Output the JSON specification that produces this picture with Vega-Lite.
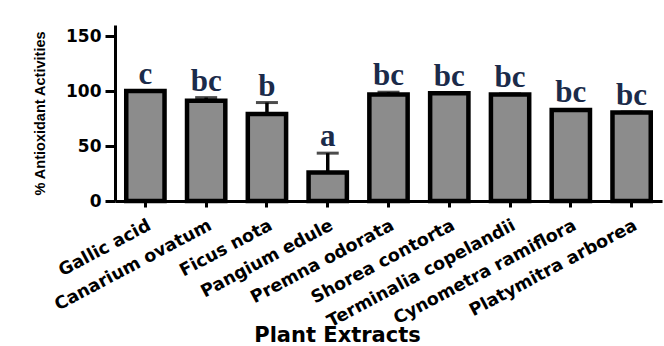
{
  "$schema": "https://vega.github.io/schema/vega-lite/v6.json",
  "width": 547,
  "height": 176,
  "autosize": "none",
  "padding": {"left": 115, "top": 25, "right": 2, "bottom": 145},
  "background": "white",
  "config": {"view": {"stroke": null}},
  "data": {
    "values": [
      {"extract": "Gallic acid", "mean": 100, "upper": 100.3, "letter": "c"},
      {"extract": "Canarium ovatum", "mean": 91.2, "upper": 94, "letter": "bc"},
      {"extract": "Ficus nota", "mean": 79, "upper": 89.5, "letter": "b"},
      {"extract": "Pangium edule", "mean": 26, "upper": 43.5, "letter": "a"},
      {"extract": "Premna odorata", "mean": 96.9, "upper": 98.9, "letter": "bc"},
      {"extract": "Shorea contorta", "mean": 98, "upper": 98.6, "letter": "bc"},
      {"extract": "Terminalia copelandii", "mean": 96.9, "upper": 97.4, "letter": "bc"},
      {"extract": "Cynometra ramiflora", "mean": 82.7, "upper": 83.2, "letter": "bc"},
      {"extract": "Platymitra arborea", "mean": 80.4, "upper": 80.9, "letter": "bc"}
    ]
  },
  "encoding": {
    "x": {
      "field": "extract",
      "type": "nominal",
      "sort": null,
      "scale": {"paddingInner": 0.37, "paddingOuter": 0.185},
      "axis": {
        "title": "Plant Extracts",
        "titleFont": "DejaVu Sans",
        "titleFontSize": 21,
        "titleFontWeight": "bold",
        "titleColor": "black",
        "titleX": 222,
        "titleY": 140,
        "titleBaseline": "alphabetic",
        "labelAngle": -28,
        "labelAlign": "right",
        "labelBaseline": "top",
        "labelFont": "DejaVu Sans",
        "labelFontSize": 17.5,
        "labelFontWeight": "bold",
        "labelColor": "black",
        "labelPadding": 9,
        "labelLimit": 400,
        "labelOverlap": false,
        "tickSize": 6,
        "tickWidth": 3,
        "tickColor": "black",
        "domainWidth": 3,
        "domainColor": "black"
      }
    }
  },
  "layer": [
    {
      "mark": {"type": "bar", "fill": "#8c8c8c", "stroke": "black", "strokeWidth": 4.5},
      "encoding": {
        "y": {
          "field": "mean",
          "type": "quantitative",
          "scale": {"domain": [0, 150]},
          "axis": {
            "values": [0, 50, 100, 150],
            "grid": false,
            "domainWidth": 3,
            "domainColor": "black",
            "tickWidth": 3,
            "tickColor": "black",
            "tickSize": 10,
            "labelFont": "DejaVu Sans",
            "labelFontWeight": "bold",
            "labelFontSize": 17,
            "labelColor": "black",
            "labelPadding": 4,
            "title": "% Antioxidant Activities",
            "titleFont": "Liberation Sans",
            "titleFontSize": 14.5,
            "titleFontWeight": "bold",
            "titleColor": "black",
            "titleAngle": -90,
            "titleX": -71,
            "titleY": 88,
            "titleAlign": "center",
            "titleBaseline": "alphabetic"
          }
        }
      }
    },
    {
      "mark": {"type": "rule", "strokeWidth": 3.5, "color": "black"},
      "encoding": {
        "y": {"field": "mean", "type": "quantitative"},
        "y2": {"field": "upper"}
      }
    },
    {
      "mark": {"type": "tick", "thickness": 3, "size": 22, "color": "black"},
      "encoding": {
        "y": {"field": "upper", "type": "quantitative"}
      }
    },
    {
      "mark": {"type": "text", "font": "Liberation Serif", "fontSize": 31, "fontWeight": "bold", "baseline": "alphabetic", "dy": -7, "color": "#1b2b4a"},
      "encoding": {
        "y": {"field": "upper", "type": "quantitative"},
        "text": {"field": "letter"}
      }
    }
  ]
}
